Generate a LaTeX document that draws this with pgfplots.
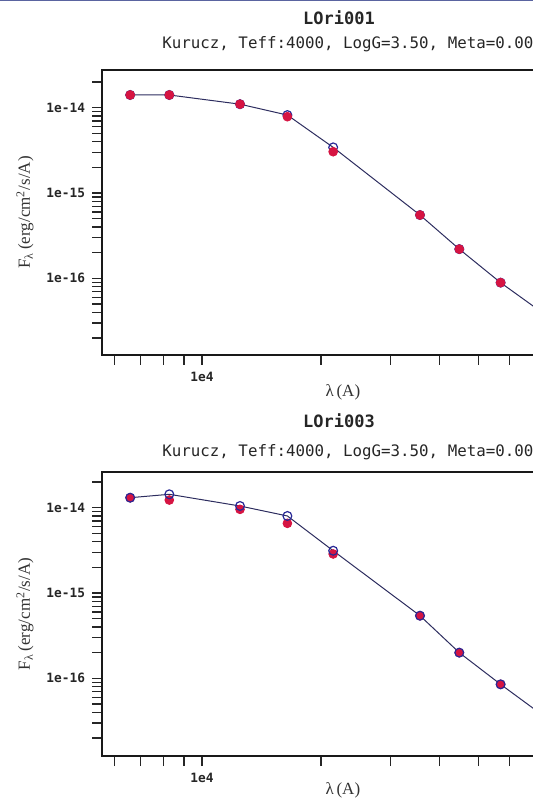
\documentclass[border=0pt]{standalone}
\usepackage{fontspec}
\setmainfont{Liberation Serif}
\newfontfamily\monofont{DejaVu Sans Mono}
\usepackage{pgfplots}
\usepackage{pgfplotstable}
\pgfplotsset{compat=1.18}
\definecolor{obsred}{RGB}{214,20,66}
\definecolor{modblue}{RGB}{40,40,150}
\definecolor{modline}{RGB}{45,45,95}
\definecolor{topbar}{RGB}{90,100,160}

\pgfplotstableread{
lam F
6580 1.41e-14
8265 1.41e-14
12480 1.10e-14
16450 8.2e-15
21480 3.43e-15
35630 5.52e-16
44800 2.2e-16
57000 8.9e-17
79000 3.0e-17
}\modelA
\pgfplotstableread{
lam F
6580 1.41e-14
8265 1.41e-14
12480 1.10e-14
16450 8.2e-15
21480 3.43e-15
35630 5.52e-16
44800 2.2e-16
57000 8.9e-17
}\modptsA
\pgfplotstableread{
lam F
6580 1.41e-14
8265 1.41e-14
12480 1.10e-14
16450 7.85e-15
21480 3.05e-15
35630 5.52e-16
44800 2.2e-16
57000 8.9e-17
}\obsA
\pgfplotstableread{
lam F
6580 1.31e-14
8265 1.436e-14
12480 1.047e-14
16450 8.0e-15
21480 3.13e-15
35630 5.42e-16
44800 2.0e-16
57000 8.5e-17
79000 2.8e-17
}\modelB
\pgfplotstableread{
lam F
6580 1.31e-14
8265 1.436e-14
12480 1.047e-14
16450 8.0e-15
21480 3.13e-15
35630 5.42e-16
44800 2.0e-16
57000 8.5e-17
}\modptsB
\pgfplotstableread{
lam F
6580 1.31e-14
8265 1.23e-14
12480 9.57e-15
16450 6.56e-15
21480 2.87e-15
35630 5.42e-16
44800 2.0e-16
57000 8.5e-17
}\obsB

\begin{document}
\begin{tikzpicture}
\useasboundingbox (0,0) rectangle (266.5pt,401.5pt);
\clip (0,0) rectangle (266.5pt,401.5pt);
\fill[topbar] (0,400.9pt) rectangle (266.5pt,401.5pt);

\node[font=\monofont\bfseries\fontsize{8.5}{10}\selectfont, black!85] at (169.5pt,392.5pt) {LOri001};
\node[font=\monofont\fontsize{7.9}{9}\selectfont, black!85, anchor=west, inner sep=0pt] at (81pt,379.5pt) {Kurucz, Teff:4000, LogG=3.50, Meta=0.00};

\begin{axis}[
    xmode=log, ymode=log,
    scale only axis,
    width=237.5pt, height=142.5pt,
    at={(51pt,224pt)}, anchor=south west,
    xmin=5584, xmax=88980,
    ymin=1.262e-17, ymax=2.767e-14,
    axis line style={line width=0.8pt, black!90},
    tick align=outside,
    xtick pos=bottom, ytick pos=left,
    major tick length=5pt, minor tick length=5pt,
    tick style={black!85, line width=0.6pt},
    xtick={10000}, xticklabels={1e4},
    minor xtick={6000,7000,8000,9000,20000,30000,40000,50000,60000,70000,80000},
    ytick={1e-16,1e-15,1e-14}, yticklabels={1e-16,1e-15,1e-14},
    minor ytick={2e-17,3e-17,4e-17,5e-17,6e-17,7e-17,8e-17,9e-17,
                 2e-16,3e-16,4e-16,5e-16,6e-16,7e-16,8e-16,9e-16,
                 2e-15,3e-15,4e-15,5e-15,6e-15,7e-15,8e-15,9e-15,2e-14},
    ticklabel style={font=\monofont\bfseries\fontsize{6.4}{7}\selectfont, black!85},
    xlabel={λ\,(A)},
    xlabel style={at={(axis description cs:0.507,-0.13)}, anchor=center, font=\fontsize{8.5}{10}\selectfont, black!80},
    ylabel={F\textsubscript{λ}\,(erg/cm\textsuperscript{2}/s/A)},
    ylabel style={at={(axis description cs:-0.162,0.5)}, anchor=center, font=\fontsize{8.5}{10}\selectfont, black!80},
    clip=false,
  ]
  \addplot[modline, line width=0.5pt, no marks] table[x=lam,y=F] {\modelA};
  \addplot[only marks, mark=o, mark size=2.2pt, modblue, mark options={line width=0.6pt}] table[x=lam,y=F] {\modptsA};
  \addplot[only marks, mark=*, mark size=2.2pt, obsred, mark options={draw=obsred, fill=obsred}] table[x=lam,y=F] {\obsA};
\end{axis}

\node[font=\monofont\bfseries\fontsize{8.5}{10}\selectfont, black!85] at (169.5pt,191pt) {LOri003};
\node[font=\monofont\fontsize{7.9}{9}\selectfont, black!85, anchor=west, inner sep=0pt] at (81pt,175.5pt) {Kurucz, Teff:4000, LogG=3.50, Meta=0.00};

\begin{axis}[
    xmode=log, ymode=log,
    scale only axis,
    width=237.5pt, height=142pt,
    at={(51pt,23.5pt)}, anchor=south west,
    xmin=5584, xmax=88980,
    ymin=1.228e-17, ymax=2.62e-14,
    axis line style={line width=0.8pt, black!90},
    tick align=outside,
    xtick pos=bottom, ytick pos=left,
    major tick length=5pt, minor tick length=5pt,
    tick style={black!85, line width=0.6pt},
    xtick={10000}, xticklabels={1e4},
    minor xtick={6000,7000,8000,9000,20000,30000,40000,50000,60000,70000,80000},
    ytick={1e-16,1e-15,1e-14}, yticklabels={1e-16,1e-15,1e-14},
    minor ytick={2e-17,3e-17,4e-17,5e-17,6e-17,7e-17,8e-17,9e-17,
                 2e-16,3e-16,4e-16,5e-16,6e-16,7e-16,8e-16,9e-16,
                 2e-15,3e-15,4e-15,5e-15,6e-15,7e-15,8e-15,9e-15,2e-14},
    ticklabel style={font=\monofont\bfseries\fontsize{6.4}{7}\selectfont, black!85},
    xlabel={λ\,(A)},
    xlabel style={at={(axis description cs:0.507,-0.12)}, anchor=center, font=\fontsize{8.5}{10}\selectfont, black!80},
    ylabel={F\textsubscript{λ}\,(erg/cm\textsuperscript{2}/s/A)},
    ylabel style={at={(axis description cs:-0.162,0.5)}, anchor=center, font=\fontsize{8.5}{10}\selectfont, black!80},
    clip=false,
  ]
  \addplot[modline, line width=0.5pt, no marks] table[x=lam,y=F] {\modelB};
  \addplot[only marks, mark=*, mark size=2.2pt, obsred, mark options={draw=obsred, fill=obsred}] table[x=lam,y=F] {\obsB};
  \addplot[only marks, mark=o, mark size=2.2pt, modblue, mark options={line width=0.6pt}] table[x=lam,y=F] {\modptsB};
\end{axis}
\end{tikzpicture}
\end{document}
